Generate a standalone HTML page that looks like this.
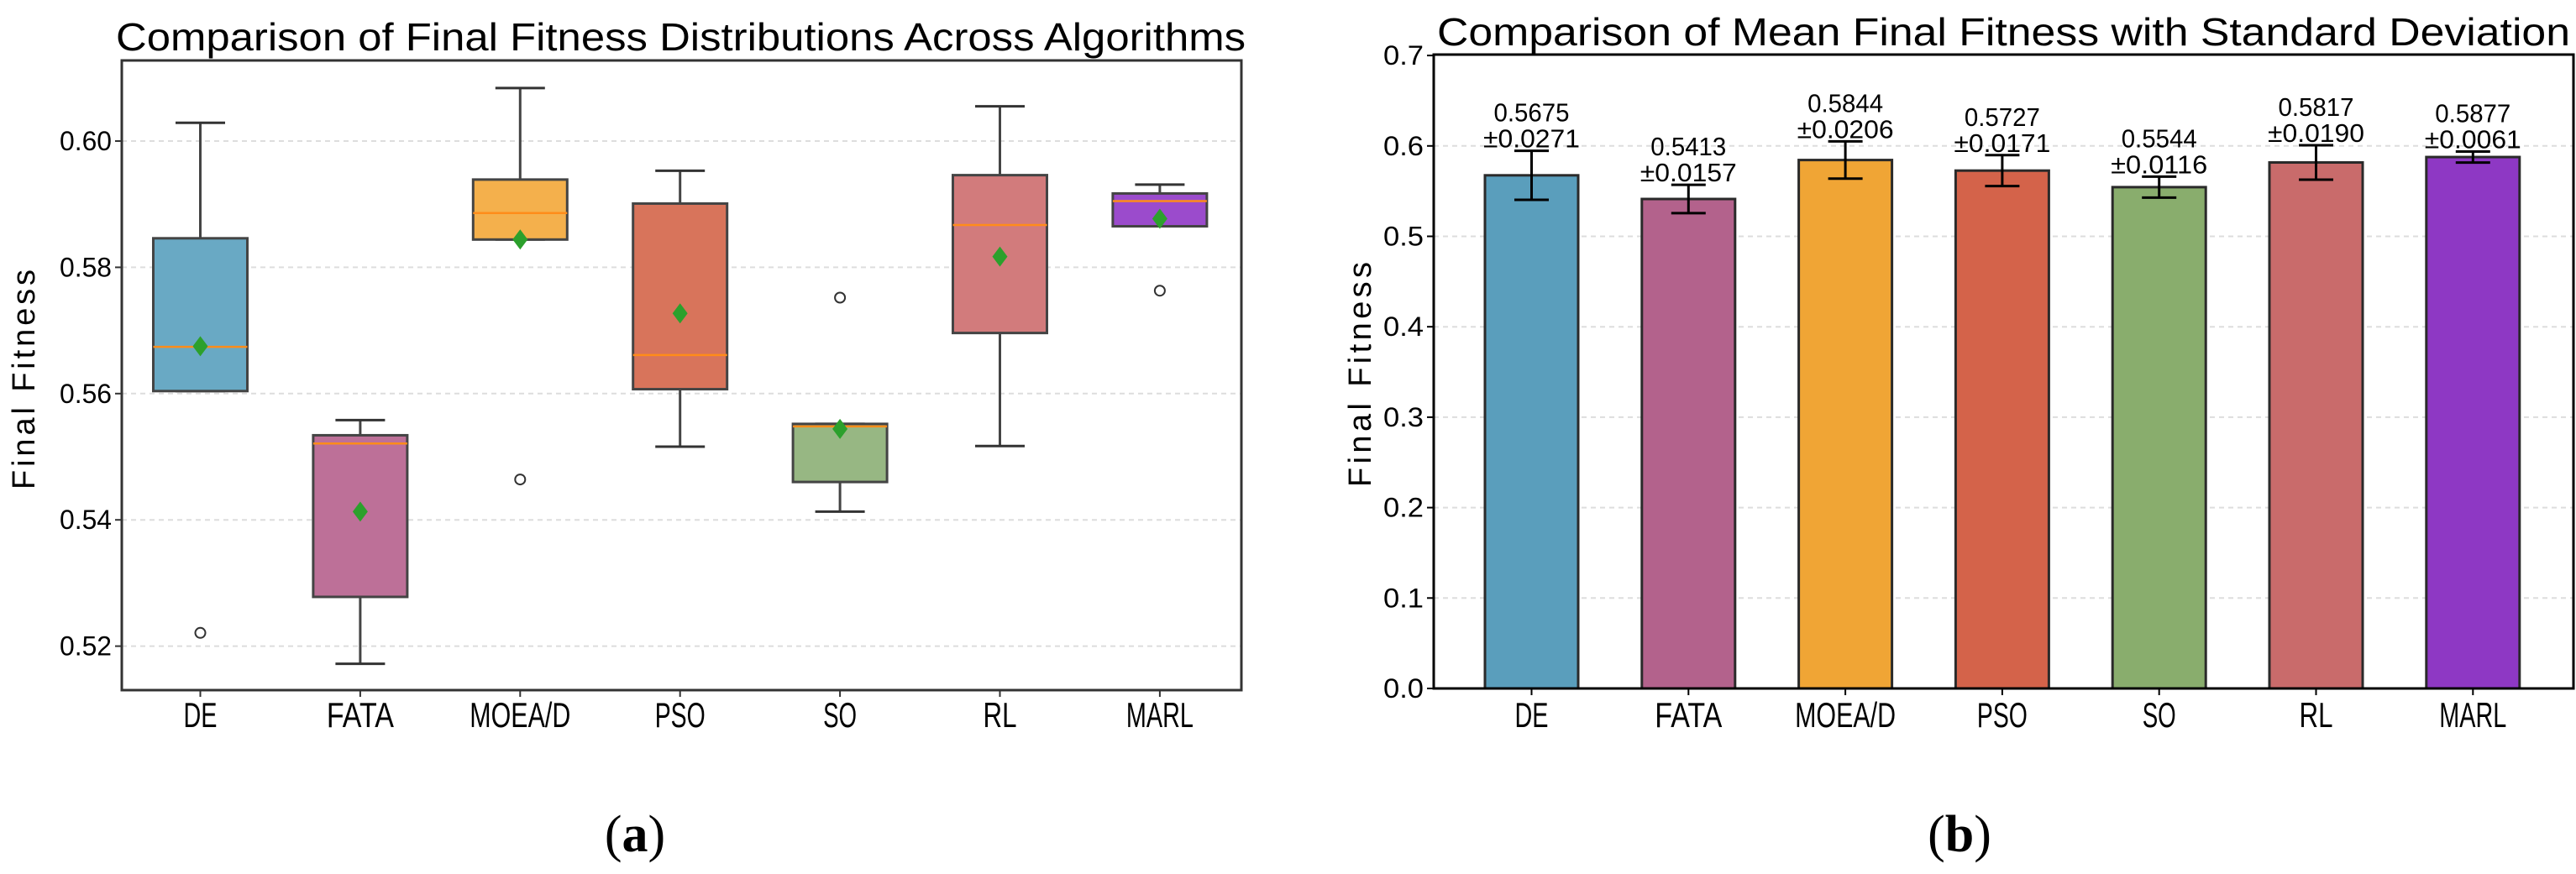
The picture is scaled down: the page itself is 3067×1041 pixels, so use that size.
<!DOCTYPE html>
<html><head><meta charset="utf-8"><style>
body{margin:0;background:#fff}
svg text{font-family:"Liberation Sans","Noto Sans CJK SC",sans-serif;fill:#000}
</style></head><body>
<svg width="3067" height="1036" viewBox="0 0 3067 1036" xmlns="http://www.w3.org/2000/svg">
<g id="left"></g>
<g id="right"></g>
</svg>
<script>
const categories=["DE","FATA","MOEA/D","PSO","SO","RL","MARL"];
const boxWhiskLow=[0.5604,0.5172,0.5844,0.5516,0.5413,0.5517,0.5865];
const boxQ1=[0.5604,0.5278,0.5844,0.5607,0.5460,0.5696,0.5865];
const boxMedian=[0.5674,0.5521,0.5886,0.5661,0.5548,0.5867,0.5905];
const boxQ3=[0.5846,0.5534,0.5939,0.5901,0.5552,0.5946,0.5917];
const boxWhiskHigh=[0.6029,0.5558,0.6084,0.5953,0.5552,0.6055,0.5931];
const boxOutliers=[[0.5221],[],[0.5464],[],[0.5752],[],[0.5763]];
const meanValues=[0.5675,0.5413,0.5844,0.5727,0.5544,0.5817,0.5877];
const stdValues=[0.0271,0.0157,0.0206,0.0171,0.0116,0.0190,0.0061];
const leftTicks=[0.52,0.54,0.56,0.58,0.60];
const rightTicks=[0,0.1,0.2,0.3,0.4,0.5,0.6,0.7];
const boxColors=["#69a9c4","#bd7098","#f4b04c","#d8745b","#97b783","#d27b7c","#9b4bcc"];
const barColors=["#5a9ebc","#b3628c","#f0a535","#d4634a","#89ad6d","#c96b6b","#8e38c4"];

const NS="http://www.w3.org/2000/svg";
function mk(parent,tag,attrs,text){const e=document.createElementNS(NS,tag);for(const k in attrs)e.setAttribute(k,attrs[k]);if(text!==undefined)e.textContent=text;parent.appendChild(e);return e;}

// ---------- LEFT: box plot ----------
const L=document.getElementById('left');
const lx0=145,lx1=1478,ly0=72,ly1=822;
const ly=v=>168+(0.60-v)/0.02*150.4;
const lx=i=>238.5+i*190.4;
let t;
leftTicks.forEach(v=>{
  t=mk(L,'line',{x1:lx0,x2:lx1,y1:ly(v),y2:ly(v),stroke:'#ddd','stroke-width':2,'stroke-dasharray':'6,5'});
  
  
  t=mk(L,'line',{x1:lx0-8,x2:lx0,y1:ly(v),y2:ly(v),stroke:'#333','stroke-width':2});
  
  
  t=mk(L,'text',{x:lx0-12,y:ly(v)+11,'text-anchor':'end','font-size':32,textLength:62,lengthAdjust:'spacingAndGlyphs'},v.toFixed(2));
  
  
});
categories.forEach((c,i)=>{
  const x=lx(i),w=112,cw=59;
  const g=mk(L,'g',{});
  
  
  mk(g,'line',{x1:x,x2:x,y1:ly(boxWhiskHigh[i]),y2:ly(boxQ3[i]),stroke:'#444','stroke-width':3});
  mk(g,'line',{x1:x,x2:x,y1:ly(boxQ1[i]),y2:ly(boxWhiskLow[i]),stroke:'#444','stroke-width':3});
  mk(g,'line',{x1:x-cw/2,x2:x+cw/2,y1:ly(boxWhiskHigh[i]),y2:ly(boxWhiskHigh[i]),stroke:'#333','stroke-width':3});
  mk(g,'line',{x1:x-cw/2,x2:x+cw/2,y1:ly(boxWhiskLow[i]),y2:ly(boxWhiskLow[i]),stroke:'#333','stroke-width':3});
  mk(g,'rect',{x:x-w/2,y:ly(boxQ3[i]),width:w,height:Math.max(1,ly(boxQ1[i])-ly(boxQ3[i])),fill:boxColors[i],stroke:'#444','stroke-width':3});
  mk(g,'line',{x1:x-w/2,x2:x+w/2,y1:ly(boxMedian[i]),y2:ly(boxMedian[i]),stroke:'#ff8c1a','stroke-width':2.5});
  boxOutliers[i].forEach(o=>{mk(g,'circle',{cx:x,cy:ly(o),r:6,fill:'none',stroke:'#333','stroke-width':2});});
  const my=ly(meanValues[i]);
  mk(g,'polygon',{points:`${x},${my-12} ${x+9},${my} ${x},${my+12} ${x-9},${my}`,fill:'#2ca02c'});
  t=mk(L,'line',{x1:x,x2:x,y1:ly1,y2:ly1+8,stroke:'#333','stroke-width':2});
  
  
  t=mk(L,'text',{x:x,y:866,'text-anchor':'middle','font-size':42,textLength:c.length*20,lengthAdjust:'spacingAndGlyphs'},c);
  
  
});
t=mk(L,'rect',{x:lx0,y:ly0,width:lx1-lx0,height:ly1-ly0,fill:'none',stroke:'#333','stroke-width':3});


t=mk(L,'text',{x:138,y:60,'font-size':46,textLength:1345,lengthAdjust:'spacingAndGlyphs'},'Comparison of Final Fitness Distributions Across Algorithms');


t=mk(L,'text',{x:0,y:0,'font-size':38,'text-anchor':'middle',textLength:262,lengthAdjust:'spacing',transform:'translate(41,452) rotate(-90)'},'Final Fitness');


t=mk(L,'text',{x:756,y:1014,'font-size':62,'text-anchor':'middle',style:'font-family:"Liberation Serif",serif'},'');
t.innerHTML='(<tspan font-weight="bold">a</tspan>)';



// ---------- RIGHT: bar chart ----------
const R=document.getElementById('right');
const rx0=1707,rx1=3064,ry0=65,ry1=820;
const ry=v=>820-v*1077;
const rx=i=>1823.5+i*186.8;
rightTicks.forEach(v=>{
  if(v>0&&v<0.7){t=mk(R,'line',{x1:rx0,x2:rx1,y1:ry(v),y2:ry(v),stroke:'#ddd','stroke-width':2,'stroke-dasharray':'6,5'});
  
  }
  t=mk(R,'line',{x1:rx0-8,x2:rx0,y1:ry(v),y2:ry(v),stroke:'#000','stroke-width':2});
  
  
  t=mk(R,'text',{x:rx0-12,y:ry(v)+11,'text-anchor':'end','font-size':32,textLength:48,lengthAdjust:'spacingAndGlyphs'},v.toFixed(1));
  
  
});
categories.forEach((c,i)=>{
  const x=rx(i),w=111;
  t=mk(R,'rect',{x:x-w/2,y:ry(meanValues[i]),width:w,height:ry1-ry(meanValues[i]),fill:barColors[i],stroke:'#2a2a2a','stroke-width':3});
  
  
  const yt=ry(meanValues[i]+stdValues[i]),yb=ry(meanValues[i]-stdValues[i]);
  const g=mk(R,'g',{stroke:'#000','stroke-width':3});
  
  
  mk(g,'line',{x1:x,x2:x,y1:yt,y2:yb});
  mk(g,'line',{x1:x-20.5,x2:x+20.5,y1:yt,y2:yt});
  mk(g,'line',{x1:x-20.5,x2:x+20.5,y1:yb,y2:yb});
  t=mk(R,'text',{x:x,y:yt-35,'text-anchor':'middle','font-size':31,textLength:90,lengthAdjust:'spacingAndGlyphs'},meanValues[i].toFixed(4));
  
  
  t=mk(R,'text',{x:x,y:yt-4,'text-anchor':'middle','font-size':31,textLength:115,lengthAdjust:'spacingAndGlyphs'},'±'+stdValues[i].toFixed(4));
  
  
  t=mk(R,'line',{x1:x,x2:x,y1:ry1,y2:ry1+8,stroke:'#000','stroke-width':2});
  
  
  t=mk(R,'text',{x:x,y:866,'text-anchor':'middle','font-size':42,textLength:c.length*20,lengthAdjust:'spacingAndGlyphs'},c);
  
  
});
t=mk(R,'rect',{x:rx0,y:ry0,width:rx1-rx0,height:ry1-ry0,fill:'none',stroke:'#000','stroke-width':3});


t=mk(R,'text',{x:1711,y:54,'font-size':46,textLength:1349,lengthAdjust:'spacingAndGlyphs'},'Comparison of Mean Final Fitness with Standard Deviation');


t=mk(R,'text',{x:0,y:0,'font-size':38,'text-anchor':'middle',textLength:268,lengthAdjust:'spacing',transform:'translate(1632,446) rotate(-90)'},'Final Fitness');


t=mk(R,'text',{x:2333,y:1014,'font-size':62,'text-anchor':'middle',style:'font-family:"Liberation Serif",serif'},'');
t.innerHTML='(<tspan font-weight="bold">b</tspan>)';


</script>
</body></html>
